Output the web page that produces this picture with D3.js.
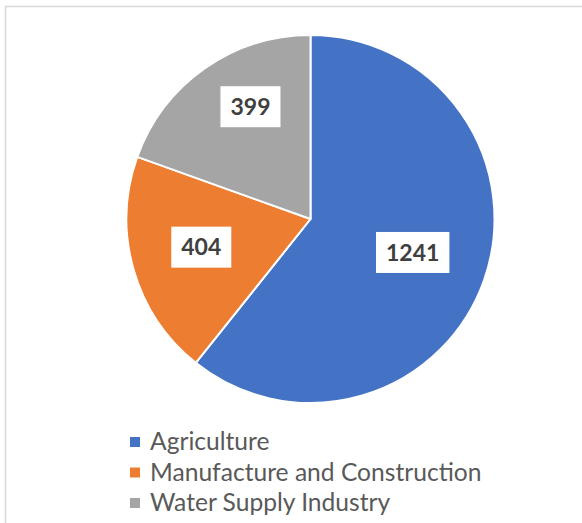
<!DOCTYPE html>
<html>
<head>
<meta charset="utf-8">
<script src="https://cdn.jsdelivr.net/npm/d3@7"></script>
<style>
  html, body { margin: 0; padding: 0; background: #ffffff; }
  svg { display: block; }
</style>
</head>
<body>
<svg id="chart" width="582" height="523"></svg>
<script>
// Water use by sector
const categories = ["Agriculture", "Manufacture and Construction", "Water Supply Industry"];
const values = [1241, 404, 399];
const colors = ["#4472C4", "#ED7D31", "#A5A5A5"];
// small hand adjustments of each data label around its slice centroid
const labelNudge = [[-2, -3], [-3, -2], [3.5, -22]];

const W = 582, H = 523;
const svg = d3.select("#chart");

// chart area frame (left and top edges visible)
svg.append("path")
  .attr("d", `M5.5,${H} L5.5,6.5 L${W},6.5`)
  .attr("fill", "none")
  .attr("stroke", "#d9d9d9")
  .attr("stroke-width", 1.5);

const cx = 310.5, cy = 219, r = 184;
const data = categories.map((c, i) => ({ name: c, value: values[i], color: colors[i], i }));

const pie = d3.pie().value(d => d.value).sort(null).startAngle(0).endAngle(2 * Math.PI);
const arcs = pie(data);
const arc = d3.arc().innerRadius(0).outerRadius(r);
const labelArc = d3.arc().innerRadius(r * 0.6).outerRadius(r * 0.6);

const g = svg.append("g").attr("transform", `translate(${cx},${cy})`);

g.selectAll("path.slice")
  .data(arcs)
  .join("path")
  .attr("class", "slice")
  .attr("d", arc)
  .attr("fill", d => d.data.color)
  .attr("stroke", "#ffffff")
  .attr("stroke-width", 2)
  .attr("stroke-linejoin", "round");

// value labels on white boxes
const lab = g.selectAll("g.lab")
  .data(arcs)
  .join("g")
  .attr("class", "lab")
  .attr("transform", d => {
    const [x, y] = labelArc.centroid(d);
    const n = labelNudge[d.data.i];
    return `translate(${x + n[0]},${y + n[1]})`;
  });

lab.append("rect").attr("fill", "#ffffff");
lab.append("text")
  .attr("text-anchor", "middle")
  .attr("dy", "0.35em")
  .attr("font-family", "Lato, 'Open Sans', sans-serif")
  .attr("font-weight", "bold")
  .attr("font-size", 23)
  .attr("fill", "#404040")
  .text(d => d.data.value);

lab.each(function () {
  const t = d3.select(this).select("text").node();
  const w = t.getComputedTextLength();
  d3.select(this).select("rect")
    .attr("x", -w / 2 - 10)
    .attr("y", -20.5)
    .attr("width", w + 20)
    .attr("height", 41);
});

// legend
const legend = svg.append("g").attr("transform", "translate(130,442)");
const rows = legend.selectAll("g")
  .data(data)
  .join("g")
  .attr("transform", (d, i) => `translate(0,${i * 30.5})`);

rows.append("rect")
  .attr("x", 0).attr("y", -5)
  .attr("width", 10).attr("height", 10)
  .attr("fill", d => d.color);

rows.append("text")
  .attr("x", 20)
  .attr("y", 8)
  .attr("font-family", "Lato, 'Open Sans', sans-serif")
  .attr("font-size", 24.6)
  .attr("fill", "#595959")
  .text(d => d.name);
</script>
</body>
</html>
